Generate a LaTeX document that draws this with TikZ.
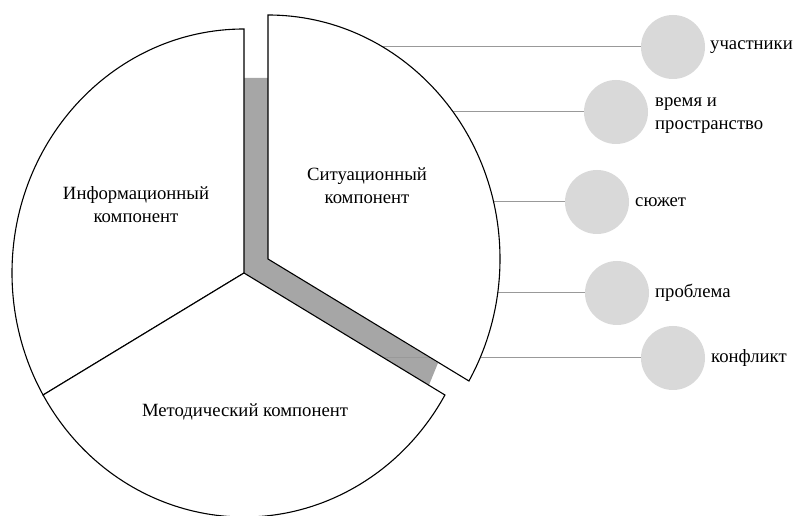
\documentclass[tikz,border=0pt]{standalone}
\usepackage{fontspec}
\setmainfont{Liberation Serif}
\begin{document}
\begin{tikzpicture}[x=1pt,y=1pt,
  sector/.style={draw=black,line width=1.1pt,fill=white,line join=miter},
  band/.style={fill=bandgray,draw=none},
  bubble/.style={circle,fill=bubblegray,draw=none,minimum size=64pt,inner sep=0pt},
  conn/.style={draw=linegray,line width=1pt},
  lbl/.style={anchor=west,font=\fontsize{18.7}{23}\selectfont,align=left,inner sep=0pt},
  sectcaption/.style={font=\fontsize{18.7}{23}\selectfont,align=center,inner sep=0pt}]
\definecolor{bandgray}{HTML}{A6A6A6}
\definecolor{bubblegray}{HTML}{D9D9D9}
\definecolor{linegray}{HTML}{999999}
\useasboundingbox (0,0) rectangle (796,516);
% gray band (gap behind the exploded sector)
\fill[band] (244,438) -- (244,243) -- (429,131) -- (438,153) -- (268,257) -- (268,438) -- cycle;
% bubbles
\node[bubble] (b1) at (673,469) {};
\node[bubble] (b2) at (616,404) {};
\node[bubble] (b3) at (597,314) {};
\node[bubble] (b4) at (617,223) {};
\node[bubble] (b5) at (673,158) {};
% connector start points
\coordinate (s1) at (380,469);
\coordinate (s2) at (380,404);
\coordinate (s3) at (380,314);
\coordinate (s4) at (380,223);
\coordinate (s5) at (380,158);
\draw[conn] (s1) -- (b1.west);
\draw[conn] (s2) -- (b2.west);
\draw[conn] (s3) -- (b3.west);
\draw[conn] (s4) -- (b4.west);
\draw[conn] (s5) -- (b5.west);
% pie sectors
\draw[sector] (244,243) -- (244,487) arc[start angle=90,end angle=210,x radius=232,y radius=244] -- cycle;
\draw[sector] (244,243) -- (43.1,121) arc[start angle=210,end angle=330,x radius=232,y radius=244] -- cycle;
\draw[sector] (268,257) -- (268,501) arc[start angle=90,end angle=-30,x radius=232,y radius=244] -- cycle;
% sector captions
\node[sectcaption] (t1) at (136,311) {Информационный\\компонент};
\node[sectcaption] (t2) at (367,330) {Ситуационный\\компонент};
\node[sectcaption] (t3) at (245,104) {Методический компонент};
% bubble labels
\node[lbl] (l1) at ([xshift=37pt]b1.center) {участники};
\node[lbl] (l2) at ([xshift=39pt,yshift=-4pt]b2.center) {время и\\пространство};
\node[lbl] (l3) at ([xshift=38pt]b3.center) {сюжет};
\node[lbl] (l4) at ([xshift=38pt]b4.center) {проблема};
\node[lbl] (l5) at ([xshift=38pt]b5.center) {конфликт};
\end{tikzpicture}
\end{document}
